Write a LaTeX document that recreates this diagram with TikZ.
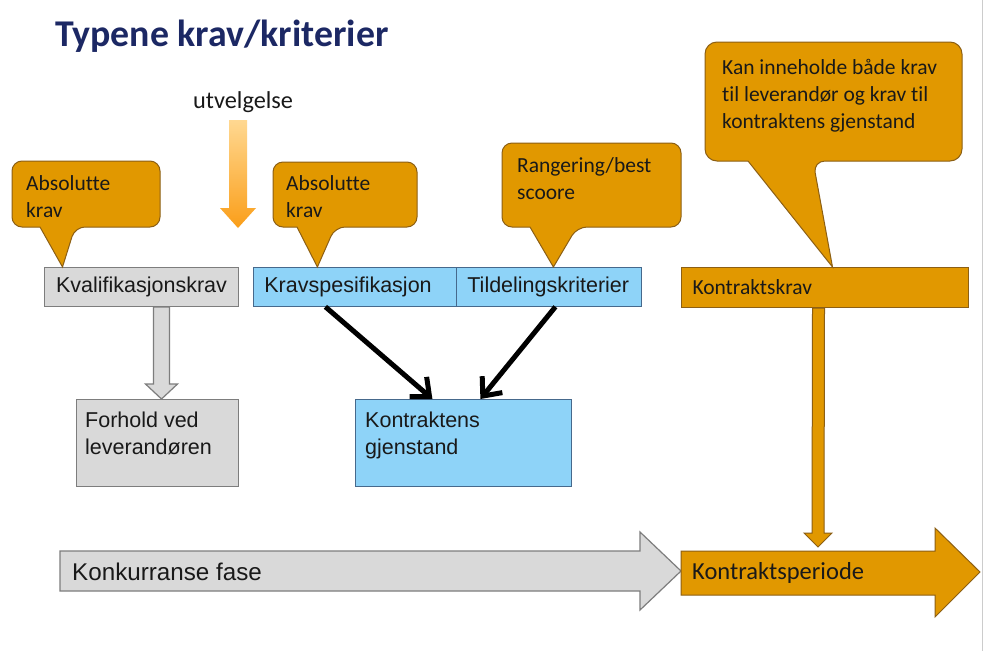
\documentclass[tikz,border=0pt]{standalone}
\usepackage{fontspec}
\setmainfont{Carlito}[Ligatures={NoCommon}]
\newfontfamily\arialf{Liberation Sans}
\usetikzlibrary{arrows.meta,calc}
\definecolor{ora}{RGB}{225,152,0}
\definecolor{orb}{RGB}{140,95,20}
\definecolor{blu}{RGB}{142,211,248}
\definecolor{blb}{RGB}{70,105,140}
\definecolor{gry}{RGB}{217,217,217}
\definecolor{grb}{RGB}{125,125,125}
\definecolor{navy}{RGB}{28,40,100}
\definecolor{txt}{RGB}{25,25,25}
\definecolor{gradtop}{RGB}{255,216,145}
\definecolor{gradbot}{RGB}{250,158,25}
\newcommand\mlines[1]{\begin{tabular}[t]{@{}l@{}}#1\end{tabular}}
\begin{document}
\begin{tikzpicture}[x=1pt,y=-1pt,
  calfont/.style={font=\fontsize{21.5}{27}\selectfont},
  arfont/.style={font=\arialf\fontsize{21.5}{27}\selectfont},
  co/.style={fill=ora,draw=orb,line width=1pt},
  lbl/.style={inner sep=0pt,text=txt,anchor=base west},
  gbox/.style={fill=gry,draw=grb,line width=1pt,inner sep=0pt,anchor=north west,text=txt},
  bbox/.style={fill=blu,draw=blb,line width=0.8pt,inner sep=0pt,anchor=north west,text=txt},
  obox/.style={fill=ora,draw=orb,line width=1pt,inner sep=0pt,anchor=north west,text=txt},
  blk/.style={line width=5pt,black,-{Straight Barb[length=15pt,width=26pt]}},
  grayblk/.style={fill=gry,draw=grb,line width=1.2pt},
  orblk/.style={fill=ora,draw=orb,line width=1pt}]
\useasboundingbox (0,0) rectangle (984,651);
\fill[white] (0,0) rectangle (984,651);
\draw[gray!40,line width=1pt] (982,0) -- (982,651);

% title
\node[anchor=base west,inner sep=0pt,font=\bfseries\fontsize{37.8}{44}\selectfont,text=navy] (title) at (55,46) {Typene krav/kriterier};

% utvelgelse arrow
\node[lbl,font=\fontsize{24.3}{28}\selectfont] (utv) at (193,108) {utvelgelse};
\shade[top color=gradtop,bottom color=gradbot] (229,120) -- (247,120) -- (247,208) -- (256,208) -- (238,228) -- (220,208) -- (229,208) -- cycle;

% boxes
\node[gbox,minimum width=194,minimum height=39,arfont] (kval) at (44,267) {Kvalifikasjonskrav};
\node[bbox,minimum width=203,minimum height=39,arfont,inner xsep=11pt,text width=181pt,align=left] (kspec) at (253,267) {Kravspesifikasjon};
\node[bbox,minimum width=185,minimum height=39,arfont,inner xsep=11pt,text width=163pt,align=left] (tild) at (456,267) {Tildelingskriterier};
\node[obox,minimum width=287,minimum height=40,calfont,inner xsep=11pt,text width=265pt,align=left] (kkrav) at (681,267) {Kontraktskrav};

\node[gbox,minimum width=162,minimum height=87] (forhold) at (76,399) {};
\node[lbl,arfont] (forholdtxt) at (85,427) {\mlines{Forhold ved\\leverandøren}};
\node[bbox,minimum width=216,minimum height=87] (kgj) at (355,399) {};
\node[lbl,arfont] (kgjtxt) at (365,427) {\mlines{Kontraktens\\gjenstand}};

% callouts
\coordinate (t1) at ([xshift=-79pt]kval.north);
\draw[co] (40,227) [rounded corners=10pt] -- (12,227) -- (12,161) -- (160,161) -- (160,227) -- (75,227) [sharp corners] -- (t1) -- cycle;
\node[lbl,calfont] (c1) at (26,190) {\mlines{Absolutte\\krav}};

\coordinate (t2) at ([xshift=-37.5pt]kspec.north);
\draw[co] (297,227) [rounded corners=10pt] -- (273,227) -- (273,162) -- (417,162) -- (417,227) -- (335,227) [sharp corners] -- (t2) -- cycle;
\node[lbl,calfont] (c2) at (286,190) {\mlines{Absolutte\\krav}};

\coordinate (t3) at ([xshift=4.5pt]tild.north);
\draw[co] (530,227) [rounded corners=10pt] -- (502,227) -- (502,143) -- (681,143) -- (681,227) -- (577,227) [sharp corners] -- (t3) -- cycle;
\node[lbl,calfont] (c3) at (517,172) {\mlines{Rangering/best\\scoore}};

\coordinate (t4) at ([xshift=7.5pt]kkrav.north);
\draw[co] (748,161) [rounded corners=12pt] -- (705,161) -- (705,42) -- (962,42) -- (962,161) -- (813,161) [sharp corners] -- (t4) -- cycle;
\node[lbl,calfont] (c4) at (722,74) {\mlines{Kan inneholde både krav\\til leverandør og krav til\\kontraktens gjenstand}};

% gray down arrow
\coordinate (ga) at ([xshift=20pt]kval.south);
\coordinate (gt) at (ga |- forhold.north);
\draw[grayblk] ($(ga)+(-8,0)$) -- ($(gt)+(-8,-15)$) -- ($(gt)+(-16,-15)$) -- (gt) -- ($(gt)+(16,-15)$) -- ($(gt)+(8,-15)$) -- ($(ga)+(8,0)$) -- cycle;

% black arrows
\draw[blk] ([xshift=-29.5pt]kspec.south) -- ([xshift=-31pt]kgj.north);
\draw[blk] ([xshift=6.5pt]tild.south) -- ([xshift=17pt]kgj.north);

% phase arrows
\draw[grayblk] (60,551) -- (640,551) -- (640,532) -- (681,571) -- (640,610) -- (640,591) -- (60,591) -- cycle;
\node[lbl,font=\arialf\fontsize{24.2}{28}\selectfont] (konk) at (72,580) {Konkurranse fase};
\draw[orblk] (681,551) -- (935,551) -- (935,528) -- (980,572) -- (935,617) -- (935,595) -- (681,595) -- cycle;
\node[lbl,font=\fontsize{24.5}{29}\selectfont] (kper) at (692,579) {Kontraktsperiode};

% orange down arrow
\coordinate (oa) at ([xshift=-6.5pt]kkrav.south);
\coordinate (ot) at (818,547);
\draw[orblk] ($(oa)+(-6,0)$) -- ($(ot)+(-6,-14)$) -- ($(ot)+(-14,-14)$) -- (ot) -- ($(ot)+(14,-14)$) -- ($(ot)+(6,-14)$) -- ($(oa)+(6,0)$) -- cycle;
\end{tikzpicture}
\end{document}
